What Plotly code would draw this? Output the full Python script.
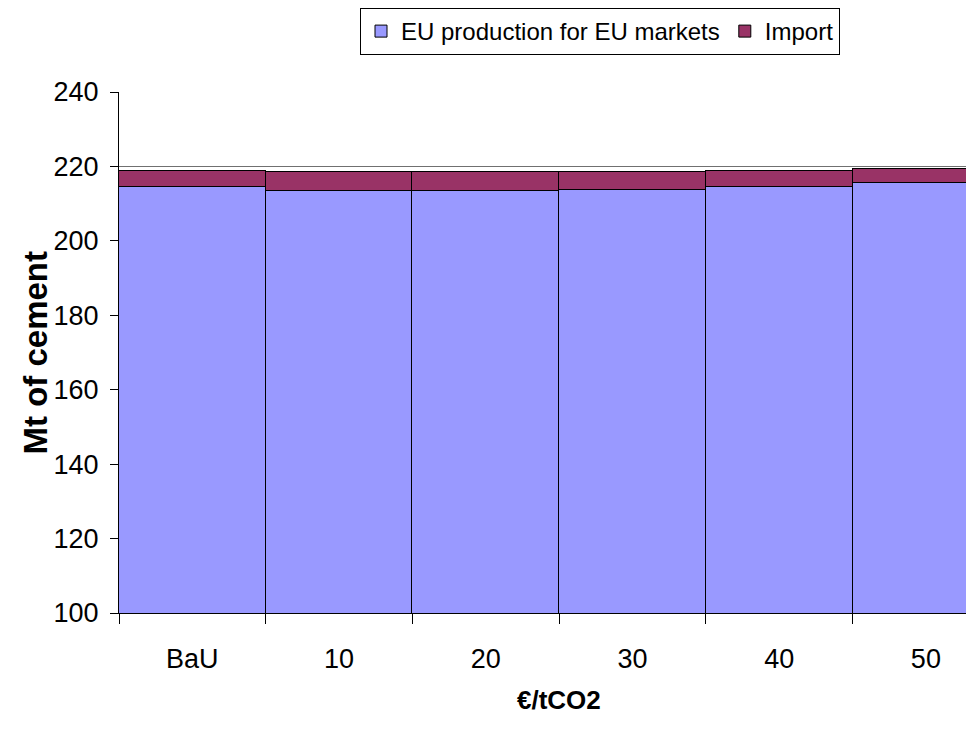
import plotly.graph_objects as go

categories = ["BaU", "10", "20", "30", "40", "50"]
eu_production = [214.4, 213.4, 213.3, 213.7, 214.6, 215.6]
imports = [4.5, 5.1, 5.2, 4.9, 4.3, 3.6]
y_ticks = [100, 120, 140, 160, 180, 200, 220, 240]

FONT = "Liberation Sans, Arial, sans-serif"

# page has an 8px body margin; plot area: x 119..974 (clipped), y 91..613
PLOT_H = 522
PLOT_W = 855

fig = go.Figure()
fig.add_trace(go.Bar(
    x=categories, y=eu_production, name="EU production for EU markets",
    marker=dict(color="#9999FF", line=dict(color="black", width=1)),
))
fig.add_trace(go.Bar(
    x=categories, y=imports, name="Import",
    marker=dict(color="#993366", line=dict(color="black", width=1)),
))

fig.update_layout(
    width=966, height=721,
    barmode="stack", bargap=0,
    plot_bgcolor="white", paper_bgcolor="white",
    margin=dict(l=111, r=0, t=83, b=116),
    font=dict(family=FONT, size=27, color="black"),
    legend=dict(
        orientation="h", x=(600 - 119) / PLOT_W, xanchor="center",
        y=1 + (91 - 7) / PLOT_H, yanchor="top",
        bordercolor="black", borderwidth=1, bgcolor="white",
        font=dict(size=24), itemwidth=30, traceorder="normal",
    ),
    xaxis=dict(
        type="category", range=[-0.5, 5.328],
        showline=True, linecolor="black", linewidth=1,
        ticks="outside", tickson="boundaries", ticklen=10, tickcolor="black",
        ticklabelstandoff=22, showgrid=False,
    ),
    yaxis=dict(
        range=[100, 240], tickvals=y_ticks,
        showline=True, linecolor="black", linewidth=1,
        ticks="outside", ticklen=8, tickcolor="black",
        ticklabelstandoff=6,
        showgrid=True, gridcolor="#707070", gridwidth=1,
        zeroline=False,
    ),
    annotations=[
        dict(text="<b>Mt of cement</b>", textangle=-90, xref="paper", yref="paper",
             x=(35 - 119) / PLOT_W, y=0.5, xanchor="center", yanchor="middle",
             showarrow=False, font=dict(size=33)),
        dict(text="<b>€/tCO2</b>", xref="x", yref="paper",
             x=2.5, y=-(700 - 613) / PLOT_H, xanchor="center", yanchor="middle",
             showarrow=False, font=dict(size=26)),
    ],
)

fig.write_html("out.html")
